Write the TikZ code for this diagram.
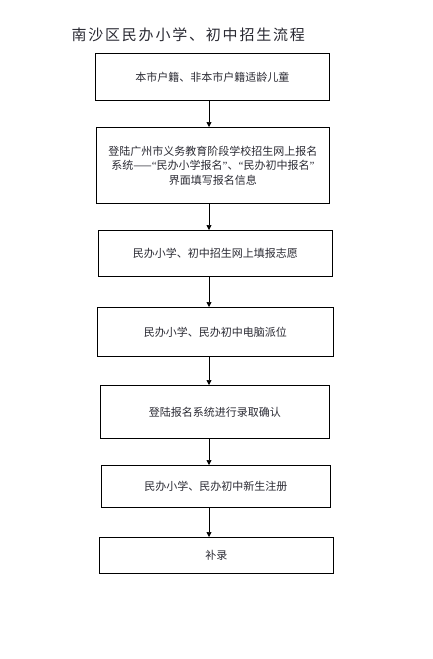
\documentclass[tikz,border=0pt]{standalone}
\usepackage{fontspec}
\setmainfont{Noto Sans CJK SC}
\newfontfamily\titlefont[LetterSpace=12]{Noto Sans CJK SC}
\newfontfamily\quotefont{Liberation Serif}
\usepackage{xcolor}
\usetikzlibrary{positioning, arrows.meta}

\definecolor{ink}{HTML}{2A2A33}
\newcommand{\openq}{{\quotefont“}}
\newcommand{\closeq}{{\quotefont”}}

\begin{document}
\begin{tikzpicture}[
    x=1pt, y=-1pt,
    >={Triangle[length=5pt, width=5pt]},
    every node/.style={font=\fontsize{11}{14.5}\selectfont, text=ink},
    box/.style={
        draw, line width=0.8pt, align=center,
        inner sep=0pt, anchor=north west
    },
    heading/.style={font=\titlefont\fontsize{15}{18}\selectfont, anchor=west},
    arrow/.style={->, line width=0.7pt},
]
\useasboundingbox (0,0) rectangle (432,659);

% --- title ---
\node[heading] (title) at (68,35) {南沙区民办小学、初中招生流程};

% --- steps ---
\node[box, minimum width=234pt, minimum height=47pt] (s1) at (95,53)
    {本市户籍、非本市户籍适龄儿童};
\node[box, minimum width=233pt, minimum height=76pt] (s2) at (96,127)
    {登陆广州市义务教育阶段学校招生网上报名\\系统——\openq 民办小学报名\closeq、\openq 民办初中报名\closeq\\界面填写报名信息};
\node[box, minimum width=234pt, minimum height=46pt] (s3) at (98,230)
    {民办小学、初中招生网上填报志愿};
\node[box, minimum width=236pt, minimum height=49pt] (s4) at (97,307)
    {民办小学、民办初中电脑派位};
\node[box, minimum width=229pt, minimum height=53pt] (s5) at (100,385)
    {登陆报名系统进行录取确认};
\node[box, minimum width=229pt, minimum height=42pt] (s6) at (101,465)
    {民办小学、民办初中新生注册};
\node[box, minimum width=234pt, minimum height=36pt] (s7) at (99,537)
    {补录};

% --- arrows ---
\coordinate (axis) at (209,0);
\draw[arrow] (s1.south -| axis) -- (s2.north -| axis);
\draw[arrow] (s2.south -| axis) -- (s3.north -| axis);
\draw[arrow] (s3.south -| axis) -- (s4.north -| axis);
\draw[arrow] (s4.south -| axis) -- (s5.north -| axis);
\draw[arrow] (s5.south -| axis) -- (s6.north -| axis);
\draw[arrow] (s6.south -| axis) -- (s7.north -| axis);

\end{tikzpicture}
\end{document}
